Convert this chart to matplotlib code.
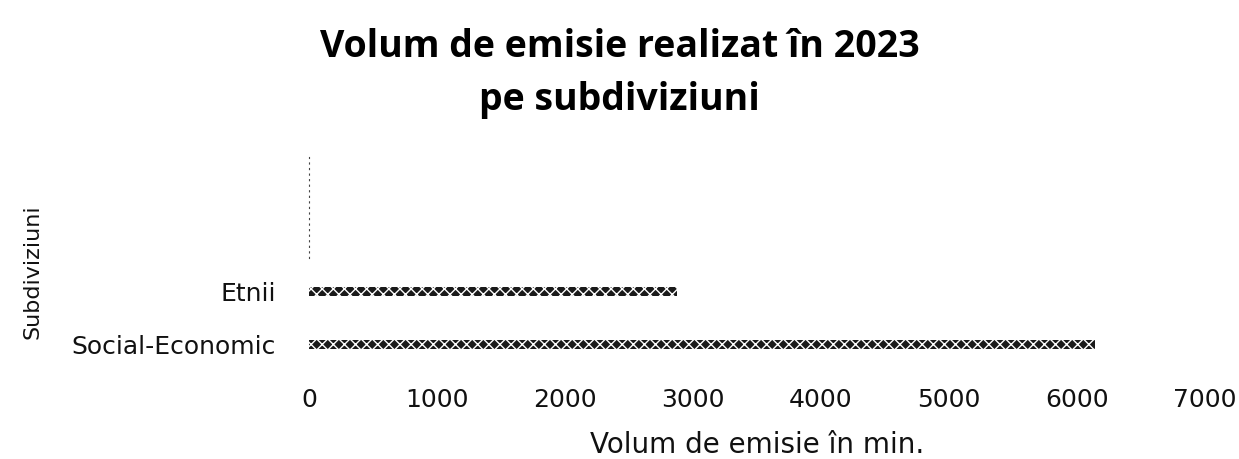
import matplotlib.pyplot as plt
import numpy as np

# Data
categories = ["Social-Economic", "Etnii"]
values = [6140, 2875]
x_ticks = [0, 1000, 2000, 3000, 4000, 5000, 6000, 7000]

plt.rcParams['font.family'] = ['DejaVu Sans']

fig = plt.figure(figsize=(12.39, 4.59), dpi=100)
ax = fig.add_axes([0.2494, 0.183, 0.7232, 0.490])

y = np.arange(len(categories))
ax.barh(y, values, height=0.17, color='#1a1a1a', edgecolor='white',
        hatch='xxx', linewidth=0)

ax.set_xlim(0, 7000)
ax.set_ylim(-0.59, 3.70)
ax.set_xticks(x_ticks)
ax.set_yticks(y)
ax.set_yticklabels(categories)
ax.tick_params(axis='both', length=0, labelsize=18, colors='#111111')
ax.tick_params(axis='x', pad=9)
ax.tick_params(axis='y', pad=24)

for side in ['top', 'right', 'bottom']:
    ax.spines[side].set_visible(False)
ax.spines['left'].set_linestyle((0, (1, 4)))
ax.spines['left'].set_color('#444444')
ax.spines['left'].set_bounds(1.64, 3.56)

ax.set_xlabel("Volum de emisie în min.", fontsize=20, labelpad=14, color='#111111')
ax.set_ylabel("Subdiviziuni", fontsize=16, color='#111111')
ax.yaxis.set_label_coords(-0.297, 0.46)

fig.suptitle("Volum de emisie realizat în 2023\npe subdiviziuni", fontsize=27,
             fontweight='bold', family='Open Sans', x=0.5, y=0.94,
             linespacing=1.55)

fig.savefig('out.png', dpi=100)
